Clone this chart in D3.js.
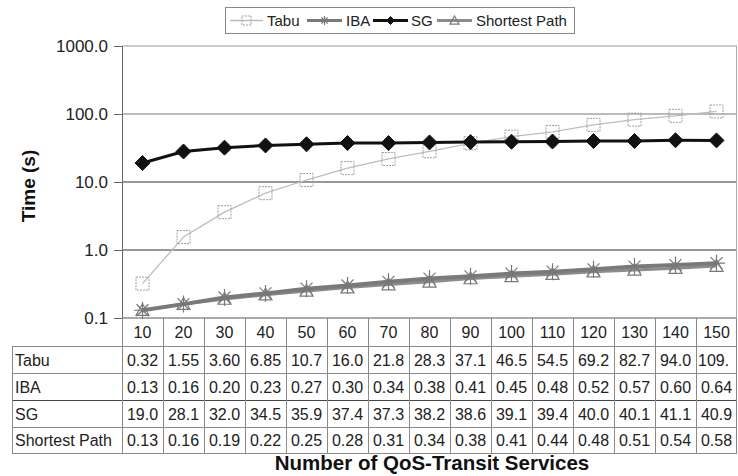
<!DOCTYPE html>
<html>
<head>
<meta charset="utf-8">
<script src="https://cdn.jsdelivr.net/npm/d3@7/dist/d3.min.js"></script>
<style>
  html, body { margin: 0; padding: 0; background: #fff; }
  svg { display: block; font-family: "Liberation Sans", Arial, sans-serif; }
</style>
</head>
<body>
<svg id="chart" width="738" height="476"></svg>
<script>
// Number of QoS-transit services on the x axis
const categories = [10, 20, 30, 40, 50, 60, 70, 80, 90, 100, 110, 120, 130, 140, 150];

// Run times in seconds for each algorithm
const tabuTimes = [0.32, 1.55, 3.60, 6.85, 10.7, 16.0, 21.8, 28.3, 37.1, 46.5, 54.5, 69.2, 82.7, 94.0, 109.0];
const ibaTimes = [0.13, 0.16, 0.20, 0.23, 0.27, 0.30, 0.34, 0.38, 0.41, 0.45, 0.48, 0.52, 0.57, 0.60, 0.64];
const sgTimes = [19.0, 28.1, 32.0, 34.5, 35.9, 37.4, 37.3, 38.2, 38.6, 39.1, 39.4, 40.0, 40.1, 41.1, 40.9];
const shortestTimes = [0.13, 0.16, 0.19, 0.22, 0.25, 0.28, 0.31, 0.34, 0.38, 0.41, 0.44, 0.48, 0.51, 0.54, 0.58];

const seriesNames = ["Tabu", "IBA", "SG", "Shortest Path"];
const yTicks = [0.1, 1, 10, 100, 1000];

const series = [
  { name: seriesNames[0], values: tabuTimes, line: "#bdbdbd", width: 1.3, marker: "square" },
  { name: seriesNames[1], values: ibaTimes, line: "#7a7a7a", width: 4, marker: "star" },
  { name: seriesNames[2], values: sgTimes, line: "#111", width: 3, marker: "diamond" },
  { name: seriesNames[3], values: shortestTimes, line: "#8c8c8c", width: 3, marker: "triangle" }
];
// draw order: light lines first, SG on top
const drawOrder = [0, 3, 1, 2];

const svg = d3.select("#chart");
const FONT = '"Liberation Sans", Arial, sans-serif';

const plotLeft = 122, plotRight = 737, plotTop = 46, plotBottom = 318;

const x = d3.scaleBand().domain(categories).range([plotLeft, plotRight]);
const y = d3.scaleLog().domain([0.1, 1000]).range([plotBottom, plotTop]);

// gridlines
const gridColor = { 0.1: "#555", 1: "#333", 10: "#333", 100: "#777", 1000: "#999" };
svg.append("g").selectAll("line").data(yTicks).join("line")
  .attr("x1", plotLeft).attr("x2", plotRight)
  .attr("y1", d => y(d)).attr("y2", d => y(d))
  .attr("stroke", d => gridColor[d]).attr("stroke-width", 1);

// right border of plot area
svg.append("line")
  .attr("x1", plotRight - 0.5).attr("x2", plotRight - 0.5)
  .attr("y1", plotTop).attr("y2", plotBottom)
  .attr("stroke", "#aaa");

// y axis
const yAxis = d3.axisLeft(y).tickValues(yTicks).tickFormat(d3.format(".1f")).tickSize(8).tickPadding(6);
const yg = svg.append("g").attr("transform", `translate(${plotLeft},0)`).call(yAxis);
yg.select(".domain").attr("stroke", "#666");
yg.selectAll(".tick line").attr("stroke", "#666");
yg.selectAll(".tick text").attr("font-family", FONT).attr("font-size", 17).attr("fill", "#222");

// y title
svg.append("text")
  .attr("transform", "translate(35,186) rotate(-90)")
  .attr("text-anchor", "middle")
  .attr("font-family", FONT).attr("font-size", 19).attr("font-weight", "bold").attr("fill", "#111")
  .text("Time (s)");

// markers
function drawMarker(g, type, cx, cy, s) {
  if (type === "square") {
    g.append("rect").attr("x", cx - s / 2).attr("y", cy - s / 2).attr("width", s).attr("height", s)
      .attr("fill", "none").attr("stroke", "#a0a0a0").attr("stroke-width", 1).attr("stroke-dasharray", "2,1");
  } else if (type === "diamond") {
    const h = s / 2;
    g.append("path").attr("d", `M${cx},${cy - h}L${cx + h},${cy}L${cx},${cy + h}L${cx - h},${cy}Z`)
      .attr("fill", "#111").attr("stroke", "#111");
  } else if (type === "star") {
    const r = s / 2;
    const p = [];
    for (let k = 0; k < 4; k++) {
      const a = k * Math.PI / 4;
      p.push(`M${cx - r * Math.cos(a)},${cy - r * Math.sin(a)}L${cx + r * Math.cos(a)},${cy + r * Math.sin(a)}`);
    }
    g.append("path").attr("d", p.join("")).attr("stroke", "#777").attr("stroke-width", 1.2).attr("fill", "none");
  } else if (type === "triangle") {
    const r = s / 2;
    g.append("path").attr("d", `M${cx},${cy - r}L${cx + r},${cy + r * 0.8}L${cx - r},${cy + r * 0.8}Z`)
      .attr("fill", "none").attr("stroke", "#7a7a7a").attr("stroke-width", 1.2);
  }
}

const cx = d => x(d) + x.bandwidth() / 2;
const line = d3.line().x((d, i) => cx(categories[i])).y(d => y(d));

const plot = svg.append("g");
drawOrder.forEach(si => {
  const s = series[si];
  plot.append("path").datum(s.values).attr("d", line)
    .attr("fill", "none").attr("stroke", s.line).attr("stroke-width", s.width).attr("stroke-linejoin", "round");
});
drawOrder.forEach(si => {
  const s = series[si];
  const g = plot.append("g");
  const size = s.marker === "diamond" ? 15 : (s.marker === "star" ? 17 : 13);
  s.values.forEach((v, i) => drawMarker(g, s.marker, cx(categories[i]), y(v), size));
});

// data table under the plot
const tableLeft = 12;
const rowTop = [318, 346, 373, 400, 427, 453];
const tableColor = "#8a8a8a";
const tg = svg.append("g");

// horizontal rules
for (let r = 1; r < rowTop.length; r++) {
  tg.append("line").attr("x1", tableLeft).attr("x2", plotRight)
    .attr("y1", rowTop[r] + 0.5).attr("y2", rowTop[r] + 0.5)
    .attr("stroke", r === 3 ? "#444" : tableColor);
}
// vertical rules
tg.append("line").attr("x1", tableLeft + 0.5).attr("x2", tableLeft + 0.5).attr("y1", rowTop[1]).attr("y2", rowTop[5]).attr("stroke", tableColor);
categories.forEach(c => {
  tg.append("line").attr("x1", x(c) + 0.5).attr("x2", x(c) + 0.5).attr("y1", plotBottom).attr("y2", rowTop[5]).attr("stroke", tableColor);
});
tg.append("line").attr("x1", plotRight - 0.5).attr("x2", plotRight - 0.5).attr("y1", plotBottom).attr("y2", rowTop[5]).attr("stroke", tableColor);

const cellFont = 16;
// header row
categories.forEach(c => {
  tg.append("text").attr("x", cx(c)).attr("y", (rowTop[0] + rowTop[1]) / 2 + 6)
    .attr("text-anchor", "middle").attr("font-family", FONT).attr("font-size", cellFont).attr("fill", "#222")
    .text(c);
});

const fmt = v => v < 10 ? v.toFixed(2) : v.toFixed(1);
series.forEach((s, r) => {
  const yc = (rowTop[r + 1] + rowTop[r + 2]) / 2 + 6;
  tg.append("text").attr("x", tableLeft + 3).attr("y", yc)
    .attr("font-family", FONT).attr("font-size", cellFont).attr("fill", "#222").text(s.name);
  s.values.forEach((v, i) => {
    const t = tg.append("text").attr("x", cx(categories[i])).attr("y", yc)
      .attr("text-anchor", "middle").attr("font-family", FONT).attr("font-size", cellFont).attr("fill", "#222")
      .text(fmt(v));
    // a number too wide for its cell loses trailing characters
    let str = fmt(v);
    if (t.node().getComputedTextLength() > x.bandwidth() - 3) {
      t.attr("text-anchor", "start").attr("x", x(categories[i]) + 2);
      while (str.length > 1 && t.node().getComputedTextLength() > x.bandwidth() - 3) {
        str = str.slice(0, -1);
        t.text(str);
      }
    }
  });
});

// x title
svg.append("text")
  .attr("x", 432).attr("y", 470)
  .attr("text-anchor", "middle")
  .attr("font-family", FONT).attr("font-size", 20.5).attr("font-weight", "bold").attr("fill", "#111")
  .text("Number of QoS-Transit Services");

// legend
const lg = svg.append("g");
lg.append("rect").attr("x", 225.5).attr("y", 7.5).attr("width", 349).attr("height", 26)
  .attr("fill", "#fff").attr("stroke", "#888");
const legendPos = [
  { x1: 230, x2: 263, tx: 267 },
  { x1: 307, x2: 342, tx: 346 },
  { x1: 373, x2: 408, tx: 411 },
  { x1: 437, x2: 472, tx: 476 }
];
series.forEach((s, i) => {
  const p = legendPos[i];
  const ly = 20.5;
  lg.append("line").attr("x1", p.x1).attr("x2", p.x2).attr("y1", ly).attr("y2", ly)
    .attr("stroke", s.line).attr("stroke-width", Math.min(s.width, 3));
  const size = s.marker === "diamond" ? 8 : 9;
  drawMarker(lg, s.marker, (p.x1 + p.x2) / 2, ly, size);
  lg.append("text").attr("x", p.tx).attr("y", ly + 5.5)
    .attr("font-family", FONT).attr("font-size", 15).attr("fill", "#222").text(s.name);
});
</script>
</body>
</html>
